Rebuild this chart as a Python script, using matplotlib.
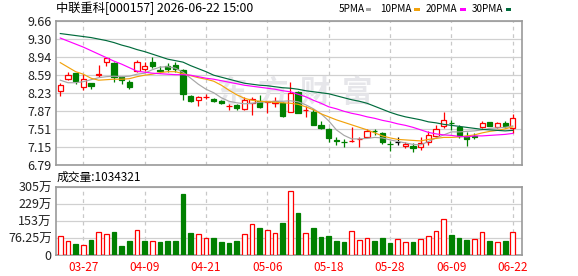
import numpy as np
import matplotlib
matplotlib.use("Agg")
import matplotlib.pyplot as plt
from matplotlib.patches import Rectangle

plt.rcParams['font.family'] = ['Noto Sans CJK SC', 'DejaVu Sans']

# 日K数据
opens  = [8.27, 8.50, 8.62, 8.35, 8.42, 8.59, 8.85, 8.82, 8.55, 8.45,
          8.66, 8.71, 8.84, 8.68, 8.76, 8.78, 8.68, 8.17, 8.09, 8.14,
          8.11, 8.07, 7.96, 7.98, 7.90, 8.02, 8.06, 8.05, 8.02, 8.03,
          7.85, 8.25, 7.88, 7.85, 7.59, 7.51, 7.28, 7.25, 7.26, 7.30,
          7.35, 7.47, 7.42, 7.21, 7.25, 7.16, 7.17, 7.14, 7.24, 7.37,
          7.57, 7.63, 7.55, 7.36, 7.36, 7.54, 7.64, 7.55, 7.62, 7.52]
highs  = [8.43, 8.64, 8.63, 8.60, 8.43, 8.78, 8.95, 8.85, 8.56, 8.48,
          8.88, 8.84, 8.95, 8.77, 8.83, 8.85, 8.70, 8.18, 8.17, 8.20,
          8.13, 8.08, 8.01, 8.00, 8.14, 8.14, 8.19, 8.07, 8.14, 8.04,
          8.45, 8.27, 7.97, 7.90, 7.67, 7.52, 7.34, 7.31, 7.54, 7.34,
          7.50, 7.51, 7.45, 7.27, 7.34, 7.25, 7.22, 7.34, 7.47, 7.59,
          7.85, 7.69, 7.59, 7.45, 7.42, 7.67, 7.65, 7.65, 7.66, 7.81]
lows   = [8.17, 8.49, 8.40, 8.29, 8.30, 8.54, 8.76, 8.45, 8.40, 8.30,
          8.65, 8.67, 8.72, 8.62, 8.65, 8.65, 8.09, 8.05, 7.97, 8.10,
          8.05, 8.01, 7.89, 7.89, 7.89, 7.79, 7.92, 7.83, 7.94, 7.75,
          7.84, 7.82, 7.74, 7.58, 7.50, 7.25, 7.19, 7.14, 7.25, 7.15,
          7.34, 7.39, 7.20, 7.07, 7.19, 7.13, 7.04, 7.08, 7.19, 7.34,
          7.52, 7.49, 7.32, 7.16, 7.30, 7.53, 7.56, 7.52, 7.52, 7.42]
closes = [8.38, 8.58, 8.46, 8.50, 8.37, 8.61, 8.92, 8.54, 8.48, 8.34,
          8.85, 8.76, 8.76, 8.66, 8.70, 8.70, 8.21, 8.07, 8.14, 8.15,
          8.07, 8.02, 7.97, 7.92, 8.08, 8.10, 7.94, 8.06, 8.06, 7.77,
          8.22, 7.83, 7.89, 7.59, 7.53, 7.32, 7.27, 7.24, 7.27, 7.31,
          7.47, 7.46, 7.25, 7.20, 7.25, 7.21, 7.12, 7.23, 7.39, 7.51,
          7.69, 7.62, 7.37, 7.31, 7.35, 7.62, 7.57, 7.62, 7.57, 7.72]

ma5  = [8.48, 8.43, 8.43, 8.45, 8.49, 8.53, 8.55, 8.56, 8.55, 8.56,
        8.60, 8.62, 8.69, 8.74, 8.75, 8.72, 8.64, 8.52, 8.40, 8.30,
        8.23, 8.13, 8.06, 8.03, 8.01, 8.02, 8.04, 8.05, 8.06, 8.06,
        8.07, 8.05, 7.99, 7.91, 7.81, 7.67, 7.49, 7.38, 7.31, 7.31,
        7.32, 7.34, 7.33, 7.29, 7.26, 7.23, 7.20, 7.19, 7.26, 7.33,
        7.39, 7.45, 7.45, 7.46, 7.47, 7.49, 7.52, 7.53, 7.54, 7.57]
ma10 = [8.83, 8.74, 8.65, 8.60, 8.52, 8.48, 8.49, 8.50, 8.50, 8.51,
        8.55, 8.58, 8.60, 8.63, 8.65, 8.65, 8.61, 8.57, 8.53, 8.50,
        8.46, 8.38, 8.28, 8.19, 8.12, 8.08, 8.06, 8.05, 8.04, 8.03,
        8.02, 8.00, 7.95, 7.89, 7.81, 7.75, 7.69, 7.64, 7.59, 7.54,
        7.49, 7.43, 7.37, 7.33, 7.30, 7.29, 7.28, 7.27, 7.30, 7.32,
        7.34, 7.34, 7.35, 7.37, 7.39, 7.43, 7.46, 7.48, 7.51, 7.55]
ma20 = [9.32, 9.26, 9.20, 9.14, 9.07, 9.00, 8.93, 8.86, 8.80, 8.73,
        8.66, 8.64, 8.62, 8.61, 8.60, 8.59, 8.59, 8.58, 8.55, 8.52,
        8.50, 8.47, 8.44, 8.41, 8.38, 8.36, 8.34, 8.32, 8.30, 8.27,
        8.25, 8.20, 8.15, 8.08, 8.02, 7.95, 7.91, 7.86, 7.82, 7.79,
        7.75, 7.72, 7.68, 7.65, 7.61, 7.58, 7.54, 7.49, 7.44, 7.41,
        7.39, 7.38, 7.36, 7.35, 7.37, 7.37, 7.38, 7.39, 7.40, 7.42]
ma30 = [9.41, 9.39, 9.37, 9.35, 9.33, 9.30, 9.27, 9.23, 9.18, 9.14,
        9.09, 9.05, 9.00, 8.95, 8.90, 8.87, 8.84, 8.77, 8.71, 8.65,
        8.58, 8.54, 8.50, 8.46, 8.42, 8.40, 8.38, 8.37, 8.35, 8.33,
        8.32, 8.30, 8.27, 8.25, 8.23, 8.21, 8.17, 8.13, 8.09, 8.06,
        8.02, 7.96, 7.90, 7.84, 7.79, 7.75, 7.72, 7.69, 7.65, 7.63,
        7.60, 7.58, 7.56, 7.54, 7.52, 7.50, 7.49, 7.48, 7.47, 7.48]

# 成交量 (万手)
volume = [84.8, 62.5, 49.0, 44.6, 67.0, 102.7, 93.7, 102.7, 40.2, 62.5,
          111.6, 62.5, 62.5, 58.0, 62.5, 62.5, 272.0, 98.2, 93.7, 75.9,
          75.9, 58.0, 53.6, 62.5, 93.7, 138.4, 120.5, 111.6, 98.2, 142.8,
          284.0, 187.5, 96.7, 120.5, 80.3, 84.8, 62.5, 58.0, 105.6, 65.5,
          74.4, 62.5, 75.9, 53.6, 70.0, 58.0, 58.0, 70.0, 83.3, 105.6,
          159.2, 89.3, 75.9, 67.0, 70.0, 101.2, 62.5, 58.0, 62.5, 103.43]
vol_up = [1, 1, 0, 1, 0, 1, 1, 0, 0, 0,
          1, 0, 1, 0, 0, 0, 0, 0, 1, 1,
          0, 0, 0, 0, 1, 1, 0, 1, 1, 0,
          1, 0, 1, 0, 0, 0, 0, 0, 1, 1,
          1, 0, 0, 0, 1, 1, 0, 1, 1, 1,
          1, 0, 0, 0, 1, 1, 0, 1, 0, 1]

date_idx = [3, 11, 19, 27, 35, 43, 51, 59]
date_labels = ['03-27', '04-09', '04-21', '05-06', '05-18', '05-28', '06-09', '06-22']
price_labels = ['6.79', '7.15', '7.51', '7.87', '8.23', '8.59', '8.94', '9.30', '9.66']
vol_ticks = [0, 76.25, 152.5, 228.75, 305]
vol_labels = ['0', '76.25万', '153万', '229万', '305万']

RED, GREEN = '#ff0000', '#008000'
W, H = 578, 276


def box(l, t, r, b):
    return [l / W, 1 - b / H, (r - l) / W, (b - t) / H]


fig = plt.figure(figsize=(W / 100, H / 100), dpi=100)
ax = fig.add_axes(box(56, 21, 522, 165))
axv = fig.add_axes(box(56, 186.7, 522, 255))

n = len(closes)
x = np.arange(n)
o = np.array(opens); c = np.array(closes)
cols = [RED if cc > oo else (GREEN if cc < oo else 'black') for oo, cc in zip(o, c)]
faces = ['white' if cc > oo else col for oo, cc, col in zip(o, c, cols)]

# 水印
for k, ch in enumerate('东方财富'):
    ax.text((231 + 42 * k) / W, 1 - 93 / H, ch, transform=fig.transFigure,
            fontsize=22, fontweight='bold', color='#e6e6ea',
            ha='center', va='center', zorder=1)

ax.vlines(x, lows, highs, colors=cols, lw=0.9, zorder=2)
ax.bar(x, np.abs(c - o), bottom=np.minimum(o, c), width=0.68,
       color=faces, edgecolor=cols, lw=0.9, zorder=3)

ax.plot(x, ma5, color='#a6a6a6', lw=0.85, zorder=4)
ax.plot(x, ma10, color='#f2a20c', lw=0.85, zorder=4)
ax.plot(x, ma20, color='#ff00ff', lw=0.85, zorder=4)
ax.plot(x, ma30, color='#006b3c', lw=0.85, zorder=4)

vcols = [RED if u else GREEN for u in vol_up]
vfaces = ['white' if u else GREEN for u in vol_up]
axv.bar(x, volume, width=0.62, color=vfaces, edgecolor=vcols, lw=0.9, zorder=3)

for a in (ax, axv):
    a.set_xlim(-0.56, 60.2)
    a.set_xticks(date_idx)
    a.grid(axis='x', color='#c8c8c8', ls=(0, (3, 3)), lw=0.9)
    a.grid(axis='y', color='#d0d0d0', ls='-', lw=0.9)
    a.set_axisbelow(True)
    for s in a.spines.values():
        s.set_color('#999999')
        s.set_linewidth(1.2)
    a.tick_params(length=0, labelsize=9, labelcolor='#222222')

ax.set_ylim(6.79, 9.66)
ax.set_yticks(np.linspace(6.79, 9.66, 9))
ax.set_yticklabels(price_labels)
ax.set_xticklabels([])
ax.tick_params(axis='y', pad=3)

axv.set_ylim(0, 305)
axv.set_yticks(vol_ticks)
axv.set_yticklabels(vol_labels)
axv.set_xticklabels(date_labels, color=RED, fontsize=8.5)
axv.tick_params(axis='y', pad=3)
axv.tick_params(axis='x', pad=4)

# 标题与图例
fig.text(56.5 / W, 1 - 8.7 / H, '中联重科[000157] 2026-06-22 15:00',
         fontsize=8.8, va='center', ha='left', color='black')
fig.text(57 / W, 1 - 177.5 / H, '成交量:1034321', fontsize=8.5,
         va='center', ha='left', color='black')

legend = [('5PMA', 338.5, 365.5, '#a6a6a6'), ('10PMA', 380, 414, '#f2a20c'),
          ('20PMA', 426, 460, '#ff00ff'), ('30PMA', 472, 505.5, '#006b3c')]
for name, tx, rx, col in legend:
    fig.text(tx / W, 1 - 8.8 / H, name, fontsize=7.2, va='center', ha='left')
    fig.add_artist(Rectangle((rx / W, 1 - 10.5 / H), 5.5 / W, 2.5 / H,
                             transform=fig.transFigure, color=col, lw=0))

fig.savefig('out.png', dpi=100)
